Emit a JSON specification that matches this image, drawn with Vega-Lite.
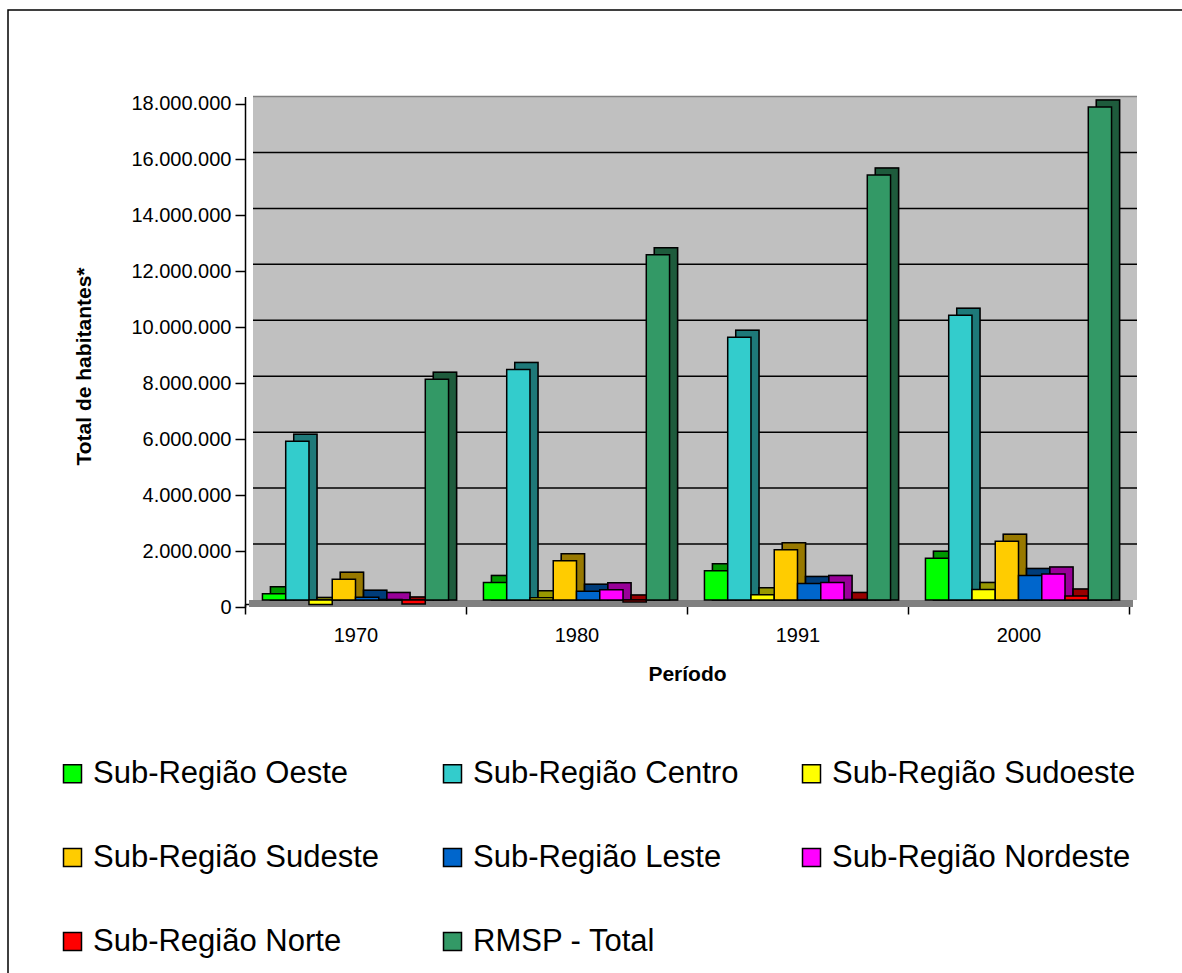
{
  "$schema": "https://vega.github.io/schema/vega-lite/v6.json",
  "width": 1176,
  "height": 966,
  "autosize": "none",
  "padding": {"left": 8, "top": 10, "right": 0, "bottom": 0},
  "background": "white",
  "config": {
    "locale": {"number": {"decimal": ",", "thousands": ".", "grouping": [3], "currency": ["R$", ""]}},
    "font": "Liberation Sans",
    "view": {"fill": null, "stroke": "black", "strokeWidth": 1.5}
  },
  "datasets": {
    "populacao": [
      {"periodo": "1970", "regiao": "Sub-Região Oeste", "habitantes": 470000},
      {"periodo": "1970", "regiao": "Sub-Região Centro", "habitantes": 5924615},
      {"periodo": "1970", "regiao": "Sub-Região Sudoeste", "habitantes": 90000},
      {"periodo": "1970", "regiao": "Sub-Região Sudeste", "habitantes": 990000},
      {"periodo": "1970", "regiao": "Sub-Região Leste", "habitantes": 350000},
      {"periodo": "1970", "regiao": "Sub-Região Nordeste", "habitantes": 270000},
      {"periodo": "1970", "regiao": "Sub-Região Norte", "habitantes": 110000},
      {"periodo": "1970", "regiao": "RMSP - Total", "habitantes": 8139730},
      {"periodo": "1980", "regiao": "Sub-Região Oeste", "habitantes": 880000},
      {"periodo": "1980", "regiao": "Sub-Região Centro", "habitantes": 8493226},
      {"periodo": "1980", "regiao": "Sub-Região Sudoeste", "habitantes": 330000},
      {"periodo": "1980", "regiao": "Sub-Região Sudeste", "habitantes": 1650000},
      {"periodo": "1980", "regiao": "Sub-Região Leste", "habitantes": 560000},
      {"periodo": "1980", "regiao": "Sub-Região Nordeste", "habitantes": 620000},
      {"periodo": "1980", "regiao": "Sub-Região Norte", "habitantes": 180000},
      {"periodo": "1980", "regiao": "RMSP - Total", "habitantes": 12588725},
      {"periodo": "1991", "regiao": "Sub-Região Oeste", "habitantes": 1300000},
      {"periodo": "1991", "regiao": "Sub-Região Centro", "habitantes": 9646185},
      {"periodo": "1991", "regiao": "Sub-Região Sudoeste", "habitantes": 440000},
      {"periodo": "1991", "regiao": "Sub-Região Sudeste", "habitantes": 2050000},
      {"periodo": "1991", "regiao": "Sub-Região Leste", "habitantes": 840000},
      {"periodo": "1991", "regiao": "Sub-Região Nordeste", "habitantes": 880000},
      {"periodo": "1991", "regiao": "Sub-Região Norte", "habitantes": 270000},
      {"periodo": "1991", "regiao": "RMSP - Total", "habitantes": 15444941},
      {"periodo": "2000", "regiao": "Sub-Região Oeste", "habitantes": 1740000},
      {"periodo": "2000", "regiao": "Sub-Região Centro", "habitantes": 10434252},
      {"periodo": "2000", "regiao": "Sub-Região Sudoeste", "habitantes": 630000},
      {"periodo": "2000", "regiao": "Sub-Região Sudeste", "habitantes": 2350000},
      {"periodo": "2000", "regiao": "Sub-Região Leste", "habitantes": 1130000},
      {"periodo": "2000", "regiao": "Sub-Região Nordeste", "habitantes": 1180000},
      {"periodo": "2000", "regiao": "Sub-Região Norte", "habitantes": 390000},
      {"periodo": "2000", "regiao": "RMSP - Total", "habitantes": 17878703}
    ],
    "grade": [
      {"periodo": "1970", "nivel": 2000000}, {"periodo": "1980", "nivel": 2000000}, {"periodo": "1991", "nivel": 2000000}, {"periodo": "2000", "nivel": 2000000},
      {"periodo": "1970", "nivel": 4000000}, {"periodo": "1980", "nivel": 4000000}, {"periodo": "1991", "nivel": 4000000}, {"periodo": "2000", "nivel": 4000000},
      {"periodo": "1970", "nivel": 6000000}, {"periodo": "1980", "nivel": 6000000}, {"periodo": "1991", "nivel": 6000000}, {"periodo": "2000", "nivel": 6000000},
      {"periodo": "1970", "nivel": 8000000}, {"periodo": "1980", "nivel": 8000000}, {"periodo": "1991", "nivel": 8000000}, {"periodo": "2000", "nivel": 8000000},
      {"periodo": "1970", "nivel": 10000000}, {"periodo": "1980", "nivel": 10000000}, {"periodo": "1991", "nivel": 10000000}, {"periodo": "2000", "nivel": 10000000},
      {"periodo": "1970", "nivel": 12000000}, {"periodo": "1980", "nivel": 12000000}, {"periodo": "1991", "nivel": 12000000}, {"periodo": "2000", "nivel": 12000000},
      {"periodo": "1970", "nivel": 14000000}, {"periodo": "1980", "nivel": 14000000}, {"periodo": "1991", "nivel": 14000000}, {"periodo": "2000", "nivel": 14000000},
      {"periodo": "1970", "nivel": 16000000}, {"periodo": "1980", "nivel": 16000000}, {"periodo": "1991", "nivel": 16000000}, {"periodo": "2000", "nivel": 16000000},
      {"periodo": "1970", "nivel": 18000000}, {"periodo": "1980", "nivel": 18000000}, {"periodo": "1991", "nivel": 18000000}, {"periodo": "2000", "nivel": 18000000}
    ]
  },
  "data": {"name": "populacao"},
  "encoding": {
    "x": {
      "field": "periodo",
      "type": "nominal",
      "sort": ["1970", "1980", "1991", "2000"],
      "scale": {"paddingInner": 0, "paddingOuter": 0, "range": [237, 1121]},
      "axis": {
        "title": "Período",
        "offset": -372,
        "titleFontSize": 21,
        "titleFontWeight": "bold",
        "titleColor": "black",
        "titlePadding": 18,
        "labelAngle": 0,
        "labelFontSize": 20,
        "labelColor": "black",
        "labelPadding": 11,
        "tickBand": "extent",
        "tickSize": 10,
        "tickColor": "black",
        "tickWidth": 1.5,
        "domainColor": "black",
        "domainWidth": 1.5,
        "grid": false
      }
    },
    "y": {
      "field": "habitantes",
      "type": "quantitative",
      "scale": {"domain": [-250000, 18000000], "nice": false, "zero": false, "range": [597, 86.5]},
      "axis": {
        "title": "Total de habitantes*",
        "offset": -237,
        "titleFontSize": 21,
        "titleFontWeight": "bold",
        "titleColor": "black",
        "titlePadding": 36,
        "titleY": 356,
        "format": ",d",
        "values": [0, 2000000, 4000000, 6000000, 8000000, 10000000, 12000000, 14000000, 16000000, 18000000],
        "labelFontSize": 20,
        "labelColor": "black",
        "labelPadding": 4,
        "tickOffset": 7,
        "tickSize": 10,
        "tickColor": "black",
        "tickWidth": 1.5,
        "domainColor": "black",
        "domainWidth": 1.5,
        "grid": false
      }
    }
  },
  "resolve": {"scale": {"xOffset": "independent"}},
  "layer": [
    {
      "mark": {"type": "bar", "xOffset": 8, "fill": "#C0C0C0", "stroke": null},
      "encoding": {
        "y": {"datum": 18000000, "type": "quantitative"},
        "y2": {"datum": 0}
      }
    },
    {
      "mark": {"type": "bar", "xOffset": 4, "fill": "#808080", "stroke": null},
      "encoding": {
        "y": {"datum": 0, "type": "quantitative"},
        "y2": {"datum": -250000}
      }
    },
    {
      "data": {"name": "grade"},
      "mark": {"type": "tick", "orient": "horizontal", "xOffset": 8, "size": 221, "thickness": 1.5, "opacity": 1},
      "encoding": {
        "y": {"field": "nivel", "type": "quantitative"},
        "color": {
          "condition": {"test": "datum.nivel >= 18000000", "value": "#808080"},
          "value": "black"
        }
      }
    },
    {
      "mark": {"type": "bar", "stroke": "black", "strokeWidth": 1.5, "opacity": 1},
      "encoding": {
        "y2": {"datum": 0},
        "xOffset": {
          "field": "regiao",
          "type": "nominal",
          "sort": ["Sub-Região Oeste", "Sub-Região Centro", "Sub-Região Sudoeste", "Sub-Região Sudeste", "Sub-Região Leste", "Sub-Região Nordeste", "Sub-Região Norte", "RMSP - Total"],
          "scale": {"paddingInner": 0, "paddingOuter": 0.75, "align": 0.73}
        },
        "color": {
          "field": "regiao",
          "type": "nominal",
          "sort": ["Sub-Região Oeste", "Sub-Região Centro", "Sub-Região Sudoeste", "Sub-Região Sudeste", "Sub-Região Leste", "Sub-Região Nordeste", "Sub-Região Norte", "RMSP - Total"],
          "scale": {"range": ["#00FF00", "#33CCCC", "#FFFF00", "#FFCC00", "#0066CC", "#FF00FF", "#FF0000", "#339966"]}
        }
      }
    },
    {
      "mark": {"type": "bar", "opacity": 0.4, "stroke": "black", "strokeWidth": 1.5},
      "encoding": {
        "y2": {"datum": 0},
        "xOffset": {
          "field": "regiao",
          "type": "nominal",
          "sort": ["Sub-Região Oeste", "Sub-Região Centro", "Sub-Região Sudoeste", "Sub-Região Sudeste", "Sub-Região Leste", "Sub-Região Nordeste", "Sub-Região Norte", "RMSP - Total"],
          "scale": {"paddingInner": 0, "paddingOuter": 0.75, "align": 0.73}
        },
        "color": {"value": "black"}
      }
    },
    {
      "mark": {"type": "bar", "yOffset": 7, "stroke": "black", "strokeWidth": 1.5, "opacity": 1},
      "encoding": {
        "y2": {"datum": 0},
        "xOffset": {
          "field": "regiao",
          "type": "nominal",
          "sort": ["Sub-Região Oeste", "Sub-Região Centro", "Sub-Região Sudoeste", "Sub-Região Sudeste", "Sub-Região Leste", "Sub-Região Nordeste", "Sub-Região Norte", "RMSP - Total"],
          "scale": {"paddingInner": 0, "paddingOuter": 0.75}
        },
        "color": {
          "field": "regiao",
          "type": "nominal",
          "sort": ["Sub-Região Oeste", "Sub-Região Centro", "Sub-Região Sudoeste", "Sub-Região Sudeste", "Sub-Região Leste", "Sub-Região Nordeste", "Sub-Região Norte", "RMSP - Total"],
          "scale": {"range": ["#00FF00", "#33CCCC", "#FFFF00", "#FFCC00", "#0066CC", "#FF00FF", "#FF0000", "#339966"]},
          "legend": {
            "title": null,
            "orient": "none",
            "legendX": 49,
            "legendY": 748,
            "direction": "horizontal",
            "columns": 3,
            "padding": 0,
            "labelFontSize": 31,
            "labelColor": "black",
            "labelLimit": 500,
            "labelOffset": 5,
            "symbolType": "square",
            "symbolSize": 324,
            "symbolStrokeColor": "black",
            "symbolStrokeWidth": 1.5,
            "symbolOpacity": 1,
            "columnPadding": 57,
            "rowPadding": 52
          }
        }
      }
    }
  ]
}
